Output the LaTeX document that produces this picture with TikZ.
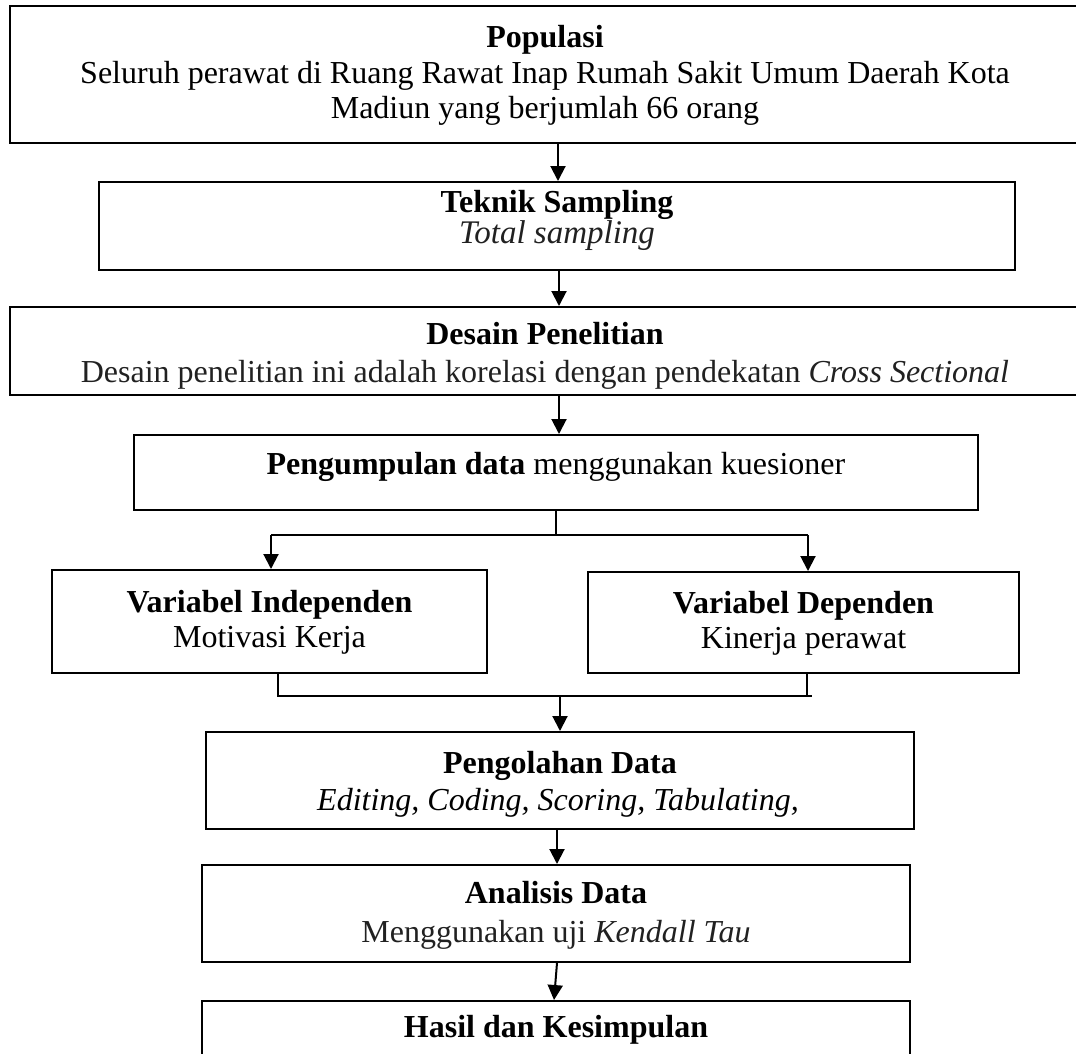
\documentclass[tikz,border=0pt]{standalone}
\usepackage{fontspec}
\setmainfont{Liberation Serif}
\usetikzlibrary{arrows.meta}
\definecolor{softblack}{gray}{0.13}
\tikzset{
  box/.style={draw=black, line width=2pt, inner sep=0pt, fill=white},
  txt/.style={inner sep=0pt, anchor=base, font=\fontsize{32}{36}\selectfont},
  conn/.style={draw=black, line width=2pt},
  arr/.style={conn, -{Triangle[length=15pt,width=15pt]}},
}
\begin{document}
\begin{tikzpicture}[x=1pt,y=-1pt]
\useasboundingbox (0,0) rectangle (1076,1053);
\clip (0,0) rectangle (1076,1053);
\fill[white] (0,0) rectangle (1076,1053);

% boxes
\node[box, minimum width=1070pt, minimum height=137pt] (pop) at (545,74.5) {};
\node[box, minimum width=916pt, minimum height=88pt] (tek) at (557,226) {};
\node[box, minimum width=1070pt, minimum height=88pt] (des) at (545,351) {};
\node[box, minimum width=844pt, minimum height=75pt] (peng) at (556,472.5) {};
\node[box, minimum width=435pt, minimum height=103pt] (vind) at (269.5,621.5) {};
\node[box, minimum width=431pt, minimum height=101pt] (vdep) at (803.5,622.5) {};
\node[box, minimum width=708pt, minimum height=97pt] (olah) at (560,780.5) {};
\node[box, minimum width=708pt, minimum height=97pt] (anal) at (556,913.5) {};
\node[box, minimum width=708pt, minimum height=79pt] (hasil) at (556,1040.5) {};

% texts
\node[txt] (popA) at (545,47) {\textbf{Populasi}};
\node[txt] (popB) at (545,83) {Seluruh perawat di Ruang Rawat Inap Rumah Sakit Umum Daerah Kota};
\node[txt] (popC) at (545,118) {Madiun yang berjumlah 66 orang};

\node[txt] (tekA) at (557,212) {\textbf{Teknik Sampling}};
\node[txt, text=softblack, font=\fontsize{33}{38}\selectfont] (tekB) at (557,243) {\textit{Total sampling}};

\node[txt] (desA) at (545,344) {\textbf{Desain Penelitian}};
\node[txt, text=softblack] (desB) at (545,382) {Desain penelitian ini adalah korelasi dengan pendekatan \textit{Cross Sectional}};

\node[txt] (pengA) at (556,474) {\textbf{Pengumpulan data} menggunakan kuesioner};

\node[txt] (vindA) at (269.5,612) {\textbf{Variabel Independen}};
\node[txt] (vindB) at (269.5,647) {Motivasi Kerja};

\node[txt] (vdepA) at (803.5,613) {\textbf{Variabel Dependen}};
\node[txt] (vdepB) at (803.5,648) {Kinerja perawat};

\node[txt] (olahA) at (560,773) {\textbf{Pengolahan Data}};
\node[txt] (olahB) at (558,810) {\textit{Editing, Coding, Scoring, Tabulating,}};

\node[txt] (analA) at (556,903) {\textbf{Analisis Data}};
\node[txt, text=softblack] (analB) at (556,942) {Menggunakan uji \textit{Kendall Tau}};

\node[txt] (hasilA) at (556,1037) {\textbf{Hasil dan Kesimpulan}};

% connectors
\draw[arr] ([xshift=13pt]pop.south) -- ([xshift=1pt]tek.north);
\draw[arr] ([xshift=2pt]tek.south) -- ([xshift=14pt]des.north);
\draw[arr] ([xshift=14pt]des.south) -- ([xshift=3pt]peng.north);

\coordinate (jl) at (271,535);
\coordinate (jr) at (808,535);
\draw[conn] (peng.south) -- (peng.south |- jl);
\draw[conn] (jl) -- (jr);
\draw[arr] (jl) -- (jl |- vind.north);
\draw[arr] (jr) -- (jr |- vdep.north);

\coordinate (kl) at (278,696);
\coordinate (kr) at (812,696);
\coordinate (kd) at (807,696);
\draw[conn] (kl |- vind.south) -- (kl) -- (kr);
\draw[conn] (kd |- vdep.south) -- (kd);
\draw[arr] (olah.north |- kl) -- (olah.north);

\draw[arr] ([xshift=-3pt]olah.south) -- ([xshift=1pt]anal.north);
\draw[arr] ([xshift=1pt]anal.south) -- ([xshift=-2pt]hasil.north);
\end{tikzpicture}
\end{document}
